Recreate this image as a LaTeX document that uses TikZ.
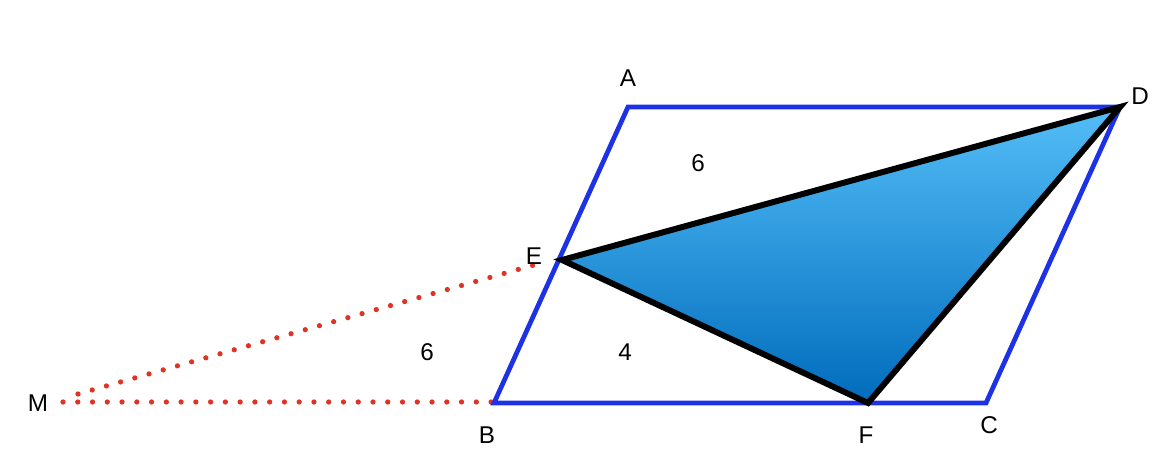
\documentclass[tikz,border=0pt]{standalone}
\usepackage{fontspec}
\setmainfont{Liberation Sans}
\definecolor{sideblue}{RGB}{28,50,228}
\definecolor{dotred}{RGB}{222,52,36}
\definecolor{topblue}{RGB}{84,190,248}
\definecolor{lowblue}{RGB}{0,108,188}
\tikzset{
  side/.style = {sideblue, line width=1.35pt, line join=miter},
  tri/.style = {black, line width=1.7pt, line join=miter, top color=topblue, bottom color=lowblue},
  aux/.style = {dotred, line width=1.5pt, line cap=round, dash pattern=on 0pt off 4.2pt},
  lbl/.style = {font=\fontsize{6.9}{8}\selectfont, inner sep=0pt}
}
\begin{document}
\begin{tikzpicture}
\useasboundingbox (0, 0) rectangle (11.76, 4.6);

\coordinate (A) at (6.28, 3.53);
\coordinate (D) at (11.20, 3.53);
\coordinate (B) at (4.94, 0.57);
\coordinate (C) at (9.86, 0.57);
\coordinate (E) at (5.62, 2.00);
\coordinate (F) at (8.68, 0.57);
\coordinate (M) at (0.63, 0.58);
\coordinate (M2) at (0.78, 0.66);
\coordinate (Ee) at (5.41, 1.97);
\coordinate (Bb) at (4.92, 0.58);

\draw[aux] (M) -- (Bb);
\draw[aux] (M2) -- (Ee);

\draw[side] (A) -- (D) -- (C) -- (B) -- cycle;

\draw[tri] (E) -- (D) -- (F) -- cycle;

\node[lbl] (lA) at (6.28, 3.82) {A};
\node[lbl] (lD) at (11.40, 3.64) {D};
\node[lbl] (lE) at (5.34, 2.04) {E};
\node[lbl] (lB) at (4.87, 0.25) {B};
\node[lbl] (lF) at (8.66, 0.25) {F};
\node[lbl] (lC) at (9.89, 0.35) {C};
\node[lbl] (lM) at (0.38, 0.57) {M};

\node[lbl] (s1) at (6.98, 2.97) {6};
\node[lbl] (s2) at (4.27, 1.08) {6};
\node[lbl] (s3) at (6.25, 1.08) {4};

\end{tikzpicture}
\end{document}
